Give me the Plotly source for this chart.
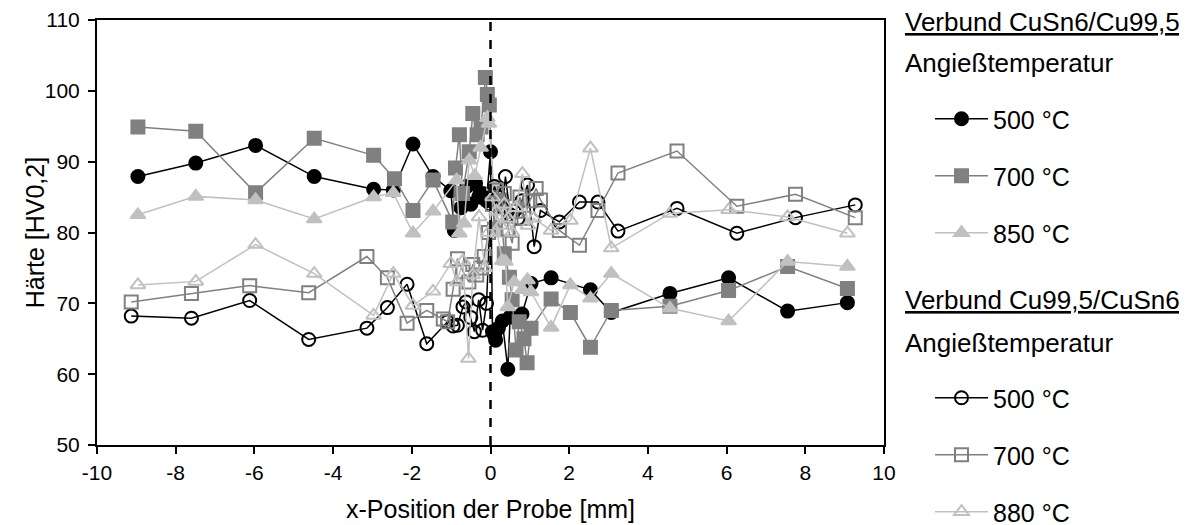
import plotly.graph_objects as go

# Verbund CuSn6/Cu99,5
x_a500 = [-8.96, -7.49, -5.97, -4.48, -2.97, -2.47, -1.97, -1.46, -1.01, -0.92, -0.75, -0.6, -0.5, -0.38, -0.3,
          -0.2, -0.1, 0.0, 0.05, 0.1, 0.13, 0.2, 0.3, 0.44, 0.5, 0.6, 0.8, 1.03, 1.54, 2.54, 3.07, 4.56, 6.05, 7.55, 9.07]
y_a500 = [87.9, 89.8, 92.3, 87.9, 86.1, 86.0, 92.5, 87.9, 85.9, 80.3, 83.5, 86.5, 84.0, 86.9, 85.0,
          85.5, 84.5, 91.4, 66.0, 65.5, 64.8, 66.5, 67.5, 60.7, 68.1, 68.0, 68.5, 72.8, 73.6, 71.9, 68.7, 71.4, 73.6, 68.9, 70.1]

x_a700 = [-8.96, -7.49, -5.97, -4.48, -2.97, -2.44, -1.97, -1.46, -0.96, -0.89, -0.79, -0.71, -0.54, -0.45, -0.34,
          -0.24, -0.13, -0.08, -0.03, 0.1, 0.25, 0.35, 0.48, 0.55, 0.65, 0.73, 0.85, 0.93, 1.03, 1.54, 2.03, 2.54,
          3.07, 4.56, 6.05, 7.55, 9.07]
y_a700 = [94.9, 94.3, 85.6, 93.3, 90.9, 87.6, 83.1, 87.4, 81.5, 89.1, 93.8, 85.5, 91.4, 96.8, 93.8,
          94.9, 101.9, 99.5, 98.0, 80.5, 84.6, 77.0, 73.7, 70.5, 63.4, 67.4, 65.0, 61.6, 66.5, 70.6, 68.7, 63.8,
          69.0, 69.6, 71.8, 75.2, 72.1]

x_a850 = [-8.96, -7.49, -5.97, -4.48, -2.97, -2.47, -1.97, -1.46, -0.86, -0.79, -0.67, -0.54, -0.4, -0.25, -0.08,
          -0.04, 0.09, 0.17, 0.3, 0.38, 0.44, 0.6, 0.81, 0.94, 1.03, 1.54, 2.03, 2.54, 3.07, 4.56, 6.05, 7.55, 9.07]
y_a850 = [82.5, 85.1, 84.6, 81.9, 85.0, 85.6, 79.9, 83.0, 87.4, 79.9, 81.3, 90.2, 88.0, 92.0, 96.2,
          95.4, 86.5, 79.9, 76.0, 75.9, 69.5, 73.0, 71.9, 73.3, 71.6, 66.6, 72.6, 70.7, 74.2, 69.3, 67.5, 75.9, 75.2]

# Verbund Cu99,5/CuSn6
x_b500 = [-9.13, -7.6, -6.12, -4.62, -3.14, -2.62, -2.12, -1.62, -1.09, -0.95, -0.84, -0.7, -0.62, -0.5, -0.41,
          -0.3, -0.2, -0.1, 0.0, 0.1, 0.2, 0.3, 0.38, 0.5, 0.6, 0.7, 0.8, 0.94, 1.11, 1.27, 1.75, 2.26, 2.73,
          3.24, 4.74, 6.26, 7.75, 9.27]
y_b500 = [68.2, 67.9, 70.4, 64.9, 66.5, 69.4, 72.7, 64.3, 67.4, 66.8, 66.9, 69.5, 70.2, 68.0, 66.0,
          70.5, 66.2, 70.0, 84.0, 86.5, 85.0, 83.5, 87.9, 82.5, 83.0, 82.0, 84.5, 86.7, 78.0, 83.1, 81.5, 84.3, 84.3,
          80.2, 83.4, 79.9, 82.1, 83.9]

x_b700 = [-9.13, -7.6, -6.12, -4.62, -3.14, -2.62, -2.12, -1.62, -1.2, -1.09, -0.95, -0.84, -0.7, -0.55, -0.45,
          -0.35, -0.25, -0.16, -0.05, 0.05, 0.15, 0.25, 0.35, 0.45, 0.55, 0.65, 0.75, 0.85, 1.0, 1.16, 1.27,
          1.75, 2.26, 2.73, 3.24, 4.74, 6.26, 7.75, 9.27]
y_b700 = [70.2, 71.4, 72.5, 71.5, 76.6, 73.6, 67.2, 69.0, 67.8, 67.4, 72.0, 76.3, 74.5, 73.0, 75.5,
          74.0, 75.0, 76.6, 80.0, 84.0, 86.0, 82.5, 85.5, 80.5, 78.5, 83.0, 85.0, 82.0, 84.5, 86.2, 84.6,
          80.3, 78.2, 83.1, 88.4, 91.5, 83.7, 85.4, 82.1]

x_b880 = [-8.96, -7.49, -5.97, -4.48, -2.97, -2.47, -1.97, -1.46, -1.01, -0.85, -0.7, -0.56, -0.45, -0.29, -0.15,
          -0.05, 0.05, 0.15, 0.25, 0.35, 0.45, 0.55, 0.65, 0.81, 0.95, 1.1, 1.54, 2.03, 2.54, 3.07, 4.56, 6.05,
          7.55, 9.07]
y_b880 = [72.6, 73.1, 78.3, 74.2, 68.3, 74.2, 69.7, 71.7, 75.6, 73.0, 76.0, 62.2, 74.0, 82.2, 75.0,
          80.0, 85.0, 83.0, 81.0, 84.0, 82.0, 80.0, 83.5, 88.3, 81.0, 82.0, 80.3, 81.7, 91.9, 77.8, 82.7, 83.2,
          82.2, 79.9]

x_ticks = [-10, -8, -6, -4, -2, 0, 2, 4, 6, 8, 10]
x_ticktext = ["-10", "-8", "-6", "-4", "-2", "0", "2", "4", "6", "8", "10"]

FONT = "Liberation Sans, Arial, sans-serif"
BLACK = "#000000"
GRAY = "#808080"
LIGHT = "#c0c0c0"

series = [
    (x_a500, y_a500, "500 °C", "circle", BLACK, "legend"),
    (x_a700, y_a700, "700 °C", "square", GRAY, "legend"),
    (x_a850, y_a850, "850 °C", "triangle-up", LIGHT, "legend"),
    (x_b500, y_b500, "500 °C", "circle-open", BLACK, "legend2"),
    (x_b700, y_b700, "700 °C", "square-open", GRAY, "legend2"),
    (x_b880, y_b880, "880 °C", "triangle-up-open", LIGHT, "legend2"),
]

fig = go.Figure()
for i, (xs, ys, name, sym, col, leg) in enumerate(series):
    fig.add_trace(go.Scatter(
        x=xs, y=ys, name=name, mode="lines+markers", legend=leg, legendgroup="g%d" % i,
        line=dict(color=col, width=1.5),
        marker=dict(symbol=sym, size=13, color=col, line=dict(color=col, width=2)),
    ))

fig.add_vline(x=0, line=dict(color="black", width=2.5, dash="dash"))

# headers of the two legend blocks
headers = [("<u>Verbund CuSn6/Cu99,5</u>", 0.995), ("Angießtemperatur", 0.899),
           ("<u>Verbund Cu99,5/CuSn6</u>", 0.341), ("Angießtemperatur", 0.24)]
for txt, yy in headers:
    fig.add_annotation(text=txt, xref="paper", yref="paper", x=1.024, y=yy,
                       xanchor="left", yanchor="middle", showarrow=False,
                       font=dict(family=FONT, size=26, color="black"))

# y axis title as rotated text, so it can sit closer to the tick labels
fig.add_annotation(text="Härte [HV0,2]", xref="paper", yref="paper", x=-0.079, y=0.5,
                   xanchor="center", yanchor="middle", textangle=-90, showarrow=False,
                   font=dict(family=FONT, size=25, color="black"))

# the page body adds an 8 px offset, so the figure is 8 px smaller than the window
W, H = 1179, 517
leg_common = dict(
    font=dict(family=FONT, size=25, color="black"),
    bgcolor="rgba(0,0,0,0)", tracegroupgap=21.5, traceorder="grouped",
    xref="container", yref="container",
    xanchor="left", yanchor="top", itemwidth=53,
)
fig.update_layout(
    width=W, height=H,
    margin=dict(l=89, r=303, t=12, b=80, autoexpand=False),
    paper_bgcolor="white", plot_bgcolor="white",
    font=dict(family=FONT, size=21, color="black"),
    legend=dict(x=922 / W, y=1 - 88 / H, **leg_common),
    legend2=dict(x=922 / W, y=1 - 367 / H, **leg_common),
    xaxis=dict(range=[-10, 10], tickvals=x_ticks, ticktext=x_ticktext, showgrid=False, zeroline=False,
               showline=True, linecolor="black", linewidth=2, mirror=True, automargin=False,
               ticks="outside", ticklen=7, tickwidth=2, tickcolor="black", ticklabelstandoff=1,
               title=dict(text="x-Position der Probe [mm]", font=dict(size=25), standoff=17)),
    yaxis=dict(range=[50, 110], dtick=10, showgrid=False, zeroline=False,
               showline=True, linecolor="black", linewidth=2, mirror=True, automargin=False,
               ticks="outside", ticklen=7, tickwidth=2, tickcolor="black", ticklabelstandoff=4),
)

fig.write_html("out.html")
